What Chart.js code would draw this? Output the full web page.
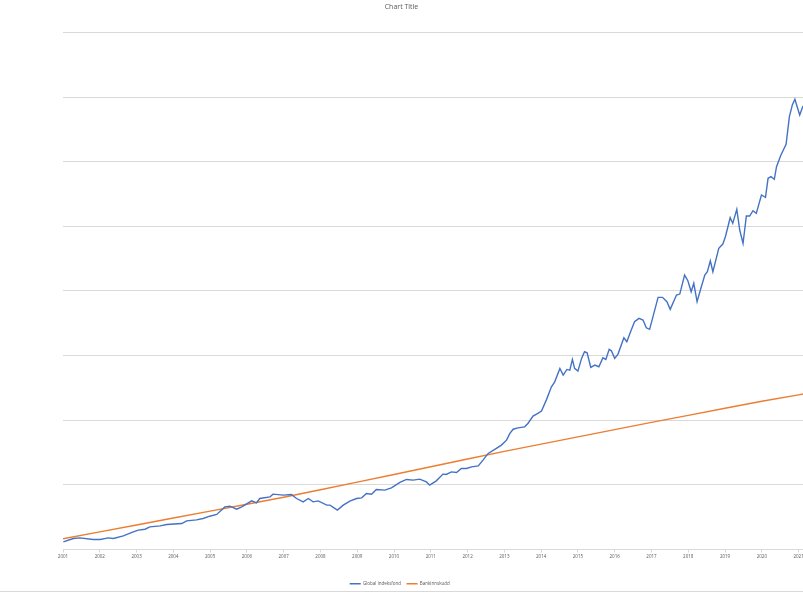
<!DOCTYPE html>
<html>
<head>
<meta charset="utf-8">
<script src="https://cdn.jsdelivr.net/npm/chart.js@4"></script>
<style>
  html, body { margin: 0; padding: 0; background: #fff; }
  #wrap { width: 803px; height: 591px; border-bottom: 1px solid #d9d9d9; }
</style>
</head>
<body>
<div id="wrap"><canvas id="chart"></canvas></div>
<script>
// Global indeksfond (decimal year, value)
const fundYears = [
  2001.01, 2001.28, 2001.46, 2001.82, 2002.01, 2002.23, 2002.37, 2002.64, 2002.91, 2003.05,
  2003.23, 2003.36, 2003.64, 2003.82, 2004.23, 2004.36, 2004.63, 2004.81, 2004.99, 2005.18,
  2005.40, 2005.54, 2005.72, 2005.86, 2006.13, 2006.26, 2006.35, 2006.63, 2006.71, 2006.99,
  2007.21, 2007.35, 2007.53, 2007.67, 2007.80, 2007.94, 2008.17, 2008.26, 2008.46, 2008.62,
  2008.80, 2008.98, 2009.12, 2009.25, 2009.39, 2009.52, 2009.75, 2009.93, 2010.16, 2010.34,
  2010.52, 2010.70, 2010.88, 2010.97, 2011.15, 2011.33, 2011.42, 2011.56, 2011.70, 2011.83,
  2011.97, 2012.11, 2012.29, 2012.42, 2012.56, 2012.74, 2012.92, 2013.06, 2013.15, 2013.24,
  2013.37, 2013.55, 2013.64, 2013.78, 2013.91, 2014.01, 2014.14, 2014.28, 2014.37, 2014.51,
  2014.60, 2014.70, 2014.78, 2014.85, 2014.91, 2015.00, 2015.10, 2015.18, 2015.25, 2015.35,
  2015.46, 2015.57, 2015.68, 2015.76, 2015.85, 2015.91, 2016.00, 2016.09, 2016.25, 2016.33,
  2016.45, 2016.54, 2016.66, 2016.77, 2016.86, 2016.95, 2017.18, 2017.30, 2017.42, 2017.51,
  2017.68, 2017.77, 2017.90, 2017.99, 2018.08, 2018.15, 2018.24, 2018.33, 2018.45, 2018.52,
  2018.60, 2018.67, 2018.83, 2018.94, 2019.01, 2019.14, 2019.21, 2019.32, 2019.40, 2019.49,
  2019.58, 2019.67, 2019.76, 2019.85, 2019.99, 2020.10, 2020.17, 2020.25, 2020.34, 2020.40,
  2020.52, 2020.66, 2020.75, 2020.83, 2020.90, 2021.03, 2021.12
];
const fundValues = [
  11.8, 17.0, 18.0, 15.5, 15.5, 18.0, 17.0, 21.1, 27.2, 29.9,
  31.4, 35.0, 36.5, 38.7, 40.2, 44.3, 45.8, 48.0, 51.5, 54.2,
  65.9, 67.0, 62.4, 65.9, 75.2, 72.1, 78.9, 81.4, 85.6, 84.1,
  85.1, 78.9, 73.7, 78.9, 73.7, 75.2, 68.6, 68.6, 60.9, 68.6,
  74.8, 78.9, 79.9, 86.7, 85.6, 92.9, 91.8, 95.4, 103.7, 108.4,
  107.3, 108.8, 104.6, 99.5, 106.2, 116.6, 116.1, 120.1, 119.2, 125.4,
  125.4, 127.9, 129.4, 138.2, 148.6, 154.8, 161.5, 169.2, 179.6, 186.1,
  188.2, 189.8, 195.0, 206.3, 210.5, 214.1, 231.1, 251.7, 259.4, 280.2,
  269.8, 278.6, 277.6, 294.1, 280.2, 276.0, 295.7, 305.9, 304.3, 281.7,
  285.3, 282.7, 296.6, 294.1, 309.6, 307.4, 295.7, 302.3, 327.6, 321.4,
  339.5, 352.3, 357.6, 355.0, 343.0, 340.6, 390.1, 390.1, 383.3, 371.5,
  393.7, 395.2, 424.6, 415.8, 398.8, 411.8, 383.3, 401.4, 424.6, 429.7,
  446.7, 429.7, 465.9, 472.6, 483.9, 513.3, 504.6, 526.3, 494.3, 473.7,
  515.9, 515.9, 524.1, 520.1, 548.5, 544.9, 574.3, 576.8, 572.8, 592.3,
  610.4, 626.9, 669.7, 687.8, 696.6, 672.3, 686.2
];

// Bankinnskudd
const bankYears = [
  2001, 2002, 2003, 2004, 2005, 2006, 2007, 2008, 2009, 2010, 2011,
  2012, 2013, 2014, 2015, 2016, 2017, 2018, 2019, 2020, 2021, 2021.12
];
const bankValues = [
  16.6, 27.3, 38.0, 48.7, 59.4, 70.1, 80.8, 92.5, 104.3, 116.0, 128.0,
  140.0, 151.8, 163.0, 174.2, 185.4, 196.6, 207.6, 218.5, 229.4, 239.3, 240.5
];

const seriesNames = ['Global indeksfond', 'Bankinnskudd'];

const font = 'Open Sans, Liberation Sans, sans-serif';
const gridColor = '#d9d9d9';

new Chart(document.getElementById('chart'), {
  type: 'line',
  data: {
    datasets: [
      {
        label: seriesNames[0],
        data: fundYears.map((x, i) => ({ x: x, y: fundValues[i] })),
        borderColor: '#4472C4',
        borderWidth: 1.4,
        pointRadius: 0,
        pointStyle: 'line',
        tension: 0
      },
      {
        label: seriesNames[1],
        data: bankYears.map((x, i) => ({ x: x, y: bankValues[i] })),
        borderColor: '#ED7D31',
        borderWidth: 1.4,
        pointRadius: 0,
        pointStyle: 'line',
        tension: 0
      }
    ]
  },
  options: {
    responsive: true,
    maintainAspectRatio: false,
    animation: false,
    layout: { padding: { top: 0, left: 0, right: 0, bottom: -5 } },
    plugins: {
      title: {
        display: true,
        text: 'Chart Title',
        color: '#595959',
        font: { family: font, size: 7, weight: 'normal' },
        padding: { top: 3, bottom: 21 }
      },
      legend: {
        position: 'bottom',
        labels: {
          color: '#595959',
          font: { family: font, size: 4.5 },
          usePointStyle: true,
          pointStyleWidth: 11,
          padding: 2,
          generateLabels: chart => Chart.defaults.plugins.legend.labels.generateLabels(chart)
            .map(l => Object.assign(l, { text: l.text + '   ' }))
        }
      },
      tooltip: { enabled: false }
    },
    scales: {
      x: {
        type: 'linear',
        min: 2001,
        max: 2021.12,
        afterBuildTicks: s => { s.ticks = s.ticks.filter(t => Number.isInteger(t.value)); },
        afterFit: s => { s.height = 30; s.paddingLeft = 0; s.paddingRight = 0; },
        ticks: {
          stepSize: 1,
          includeBounds: false,
          autoSkip: false,
          maxRotation: 0,
          padding: 2,
          color: '#595959',
          font: { family: font, size: 4.5 },
          callback: v => String(v)
        },
        grid: { drawOnChartArea: false, tickLength: 3, color: gridColor },
        border: { color: gridColor }
      },
      y: {
        min: 0,
        max: 800,
        afterFit: s => { s.width = 63; },
        ticks: { stepSize: 100, display: false },
        grid: { color: gridColor, drawTicks: false },
        border: { display: false }
      }
    }
  }
});
</script>
</body>
</html>
